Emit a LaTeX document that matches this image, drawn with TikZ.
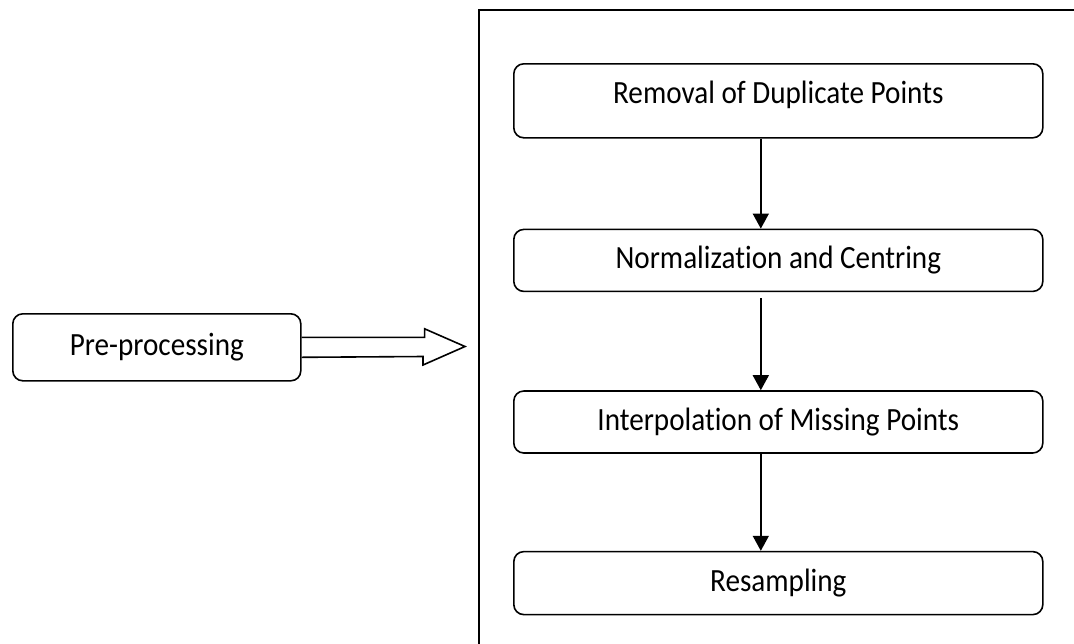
\documentclass[tikz,border=0pt]{standalone}
\usepackage{fontspec}
\setmainfont{Carlito}[Ligatures=NoCommon, FakeStretch=0.9]
\usetikzlibrary{arrows.meta, positioning}

\begin{document}
\begin{tikzpicture}[
    x=0.5pt, y=-0.5pt,
    node distance=45pt,
    stage/.style={draw, rounded corners=5pt, line width=0.8pt, minimum width=264.5pt,
                  minimum height=31pt, inner sep=0pt, font=\fontsize{16.2}{19}\selectfont},
    arrow/.style={-{Triangle[length=7.5pt, width=8pt]}, line width=0.75pt},
    hollow/.style={line width=0.8pt, line join=miter}
]
  \clip (0,0) rectangle (1074,643);
  \draw[line width=1pt] (479,10) rectangle (1100,700);

  \node[stage, anchor=north west, minimum height=37pt, text depth=9pt] (dup) at (513,63) {Removal of Duplicate Points};
  \node[stage, below=45pt of dup] (norm) {Normalization and Centring};
  \node[stage, below=49pt of norm] (interp) {Interpolation of Missing Points};
  \node[stage, below=48.5pt of interp, minimum height=31.5pt] (resamp) {Resampling};

  \node[stage, anchor=north west, minimum width=144pt, minimum height=33.5pt] (pre) at (12,313) {Pre-processing};
  \coordinate (tip) at (465,346.5);

  % arrows sit a little left of the box centres
  \draw[arrow] ([xshift=-8.75pt]dup.south) -- ([xshift=-8.75pt]norm.north);
  \draw[arrow] ([xshift=-8.75pt, yshift=-3pt]norm.south) -- ([xshift=-8.75pt]interp.north);
  \draw[arrow] ([xshift=-8.75pt]interp.south) -- ([xshift=-8.75pt]resamp.north);
  \draw[hollow] ([yshift=5pt]pre.east) -- ++(123,0) -- ++(0,-8.5) -- (tip)
    -- ++(-42,18.5) -- ++(0,-8.5) -- ([yshift=-5pt]pre.east);
\end{tikzpicture}
\end{document}
